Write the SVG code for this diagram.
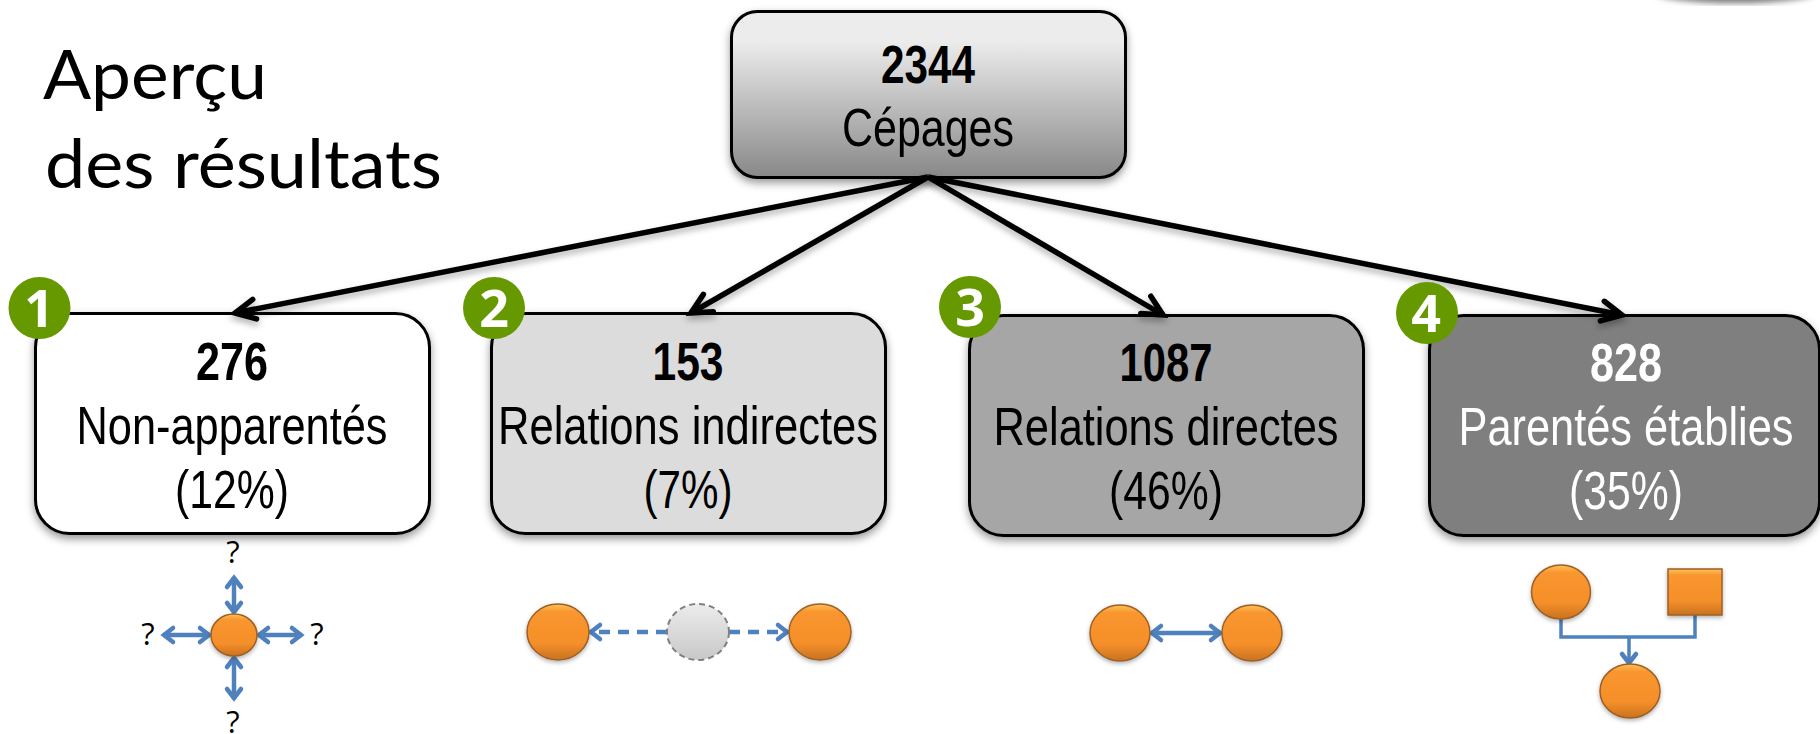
<svg xmlns="http://www.w3.org/2000/svg" width="1820" height="734" viewBox="0 0 1820 734">
<style>
text{text-anchor:middle}
.n{font-family:"Liberation Sans",Arial,sans-serif;font-size:54px;fill:#000}
.b{font-weight:bold}
.w{fill:#fff}
.box{stroke:#000;stroke-width:3;filter:url(#sh)}
.title{font-family:Lato,"Open Sans",sans-serif;font-size:67px;fill:#000;text-anchor:start}
.q{font-family:"Open Sans",sans-serif;font-size:31px;fill:#000}
.bd{fill:#669900}
.bt{font-family:"Open Sans",sans-serif;font-weight:bold;font-size:52px;fill:#fff}
.ball{fill:url(#or);stroke:#9c6027;stroke-width:1.500;filter:url(#sb)}
.big{fill:none;stroke:#000;stroke-width:5.500;marker-end:url(#ah);filter:url(#sl)}
.bl{fill:none;stroke:#4f81bd;stroke-width:4.500}
.bt2{fill:none;stroke:#4f81bd;stroke-width:3.500}
.d2{marker-start:url(#bh);marker-end:url(#bh)}
.d1{marker-end:url(#bh)}
.da{stroke-dasharray:11 8}
</style>
<defs>
<linearGradient id="rg" x1="0" y1="0" x2="0" y2="1"><stop offset="0.18" stop-color="#ececec"/><stop offset="1" stop-color="#888"/></linearGradient>
<linearGradient id="or" x1="0" y1="0" x2="0" y2="1"><stop offset="0" stop-color="#fdc25a"/><stop offset="0.14" stop-color="#f9962e"/><stop offset="0.7" stop-color="#f58f2a"/><stop offset="1" stop-color="#c87220"/></linearGradient>
<linearGradient id="gy" x1="0" y1="0" x2="0" y2="1"><stop offset="0" stop-color="#ececec"/><stop offset="1" stop-color="#c8c8c8"/></linearGradient>
<filter id="sh" x="-10%" y="-10%" width="120%" height="125%"><feDropShadow dx="0" dy="4" stdDeviation="4" flood-color="#000" flood-opacity="0.4"/></filter>
<filter id="sl" x="-10%" y="-10%" width="120%" height="130%"><feDropShadow dx="0" dy="4" stdDeviation="3" flood-color="#000" flood-opacity="0.3"/></filter>
<filter id="sb" x="-20%" y="-20%" width="140%" height="150%"><feDropShadow dx="0" dy="2" stdDeviation="2" flood-color="#000" flood-opacity="0.3"/></filter>
<filter id="bl"><feGaussianBlur stdDeviation="3"/></filter>
<marker id="ah" markerUnits="userSpaceOnUse" viewBox="-26 -14 30 28" refX="0" refY="0" markerWidth="30" markerHeight="28" orient="auto" overflow="visible"><path d="M-20,-10 L0,0 L-20,10" fill="none" stroke="#000" stroke-width="5.500" stroke-linecap="round" stroke-linejoin="miter"/></marker>
<marker id="bh" markerUnits="userSpaceOnUse" viewBox="-14 -10 18 20" refX="0" refY="0" markerWidth="18" markerHeight="20" orient="auto-start-reverse" overflow="visible"><path d="M-10,-7 L-1,0 L-10,7" fill="none" stroke="#4f81bd" stroke-width="4.500" stroke-linecap="round" stroke-linejoin="miter"/></marker>
</defs>
<rect width="1820" height="734" fill="#fff"/>
<ellipse cx="1735" cy="-8" rx="80" ry="11" fill="#777" filter="url(#bl)"/>
<g id="title">
<text class="title" x="43" y="99" textLength="224" lengthAdjust="spacingAndGlyphs">Aperçu</text>
<text class="title" x="45" y="188" textLength="397" lengthAdjust="spacingAndGlyphs">des résultats</text>
</g>
<g id="root">
<rect class="box" x="731.500" y="11.500" width="394" height="166" rx="26" fill="url(#rg)"/>
<text class="n b" x="928" y="83" textLength="94" lengthAdjust="spacingAndGlyphs">2344</text>
<text class="n" x="928" y="146" textLength="172" lengthAdjust="spacingAndGlyphs">Cépages</text>
</g>
<g id="node1">
<rect class="box" x="35.500" y="313.500" width="394" height="220" rx="34" fill="#fff"/>
<text class="n b" x="232" y="380" textLength="72" lengthAdjust="spacingAndGlyphs">276</text>
<text class="n" x="232" y="444" textLength="311" lengthAdjust="spacingAndGlyphs">Non-apparentés</text>
<text class="n" x="232" y="508" textLength="114" lengthAdjust="spacingAndGlyphs">(12%)</text>
</g>
<g id="node2">
<rect class="box" x="491.500" y="313.500" width="394" height="220" rx="34" fill="#dcdcdc"/>
<text class="n b" x="688" y="380" textLength="71" lengthAdjust="spacingAndGlyphs">153</text>
<text class="n" x="688" y="444" textLength="380" lengthAdjust="spacingAndGlyphs">Relations indirectes</text>
<text class="n" x="688" y="508" textLength="89" lengthAdjust="spacingAndGlyphs">(7%)</text>
</g>
<g id="node3">
<rect class="box" x="969.500" y="315.500" width="394" height="220" rx="34" fill="#a6a6a6"/>
<text class="n b" x="1166" y="381" textLength="93" lengthAdjust="spacingAndGlyphs">1087</text>
<text class="n" x="1166" y="445" textLength="345" lengthAdjust="spacingAndGlyphs">Relations directes</text>
<text class="n" x="1166" y="509" textLength="114" lengthAdjust="spacingAndGlyphs">(46%)</text>
</g>
<g id="node4">
<rect class="box" x="1429.500" y="315.500" width="390" height="220" rx="34" fill="#7f7f7f"/>
<text class="n b w" x="1626" y="381" textLength="72" lengthAdjust="spacingAndGlyphs">828</text>
<text class="n w" x="1626" y="445" textLength="335" lengthAdjust="spacingAndGlyphs">Parentés établies</text>
<text class="n w" x="1626" y="509" textLength="114" lengthAdjust="spacingAndGlyphs">(35%)</text>
</g>
<g id="connectors">
<path class="big" d="M928,177 L235,313"/>
<path class="big" d="M928,177 L691,313"/>
<path class="big" d="M928,177 L1163,315"/>
<path class="big" d="M928,177 L1622,315"/>
<path class="bl d2" d="M163,635 H210"/>
<path class="bl d2" d="M258,635 H302"/>
<path class="bl d2" d="M234,577 V613"/>
<path class="bl d2" d="M234,657 V699"/>
<path class="bl da" d="M667,632 H590" marker-end="url(#bh)"/>
<path class="bl da" d="M729,632 H788" marker-end="url(#bh)"/>
<path class="bl d2" d="M1151,633 H1221"/>
<path class="bt2" d="M1561,619 V637 H1695 V615"/>
<path class="bt2 d1" d="M1629,637 V664"/>
</g>
<g id="badge1"><circle class="bd" cx="39.500" cy="308" r="31"/><text class="bt" x="39" y="327">1</text></g>
<g id="badge2"><circle class="bd" cx="494" cy="308" r="31"/><text class="bt" x="494" y="327">2</text></g>
<g id="badge3"><circle class="bd" cx="970" cy="307" r="31"/><text class="bt" x="970" y="326">3</text></g>
<g id="badge4"><circle class="bd" cx="1427" cy="313" r="31"/><text class="bt" x="1426" y="332">4</text></g>
<g id="mini1">
<ellipse class="ball" cx="234" cy="635" rx="23" ry="21"/>
<text class="q" x="233" y="563">?</text>
<text class="q" x="148" y="645">?</text>
<text class="q" x="317" y="645">?</text>
<text class="q" x="233" y="733">?</text>
</g>
<g id="mini2">
<ellipse class="ball" cx="558" cy="632" rx="31" ry="28"/>
<ellipse cx="698" cy="632" rx="31" ry="28" fill="url(#gy)" stroke="#808080" stroke-width="2" stroke-dasharray="6 4"/>
<ellipse class="ball" cx="820" cy="632" rx="31" ry="28"/>
</g>
<g id="mini3">
<ellipse class="ball" cx="1120" cy="633" rx="30" ry="28"/>
<ellipse class="ball" cx="1252" cy="633" rx="30" ry="28"/>
</g>
<g id="mini4">
<ellipse class="ball" cx="1561" cy="592" rx="29.500" ry="27"/>
<rect class="ball" x="1668" y="569" width="54" height="46"/>
<ellipse class="ball" cx="1630" cy="691" rx="30" ry="27"/>
</g>
</svg>
